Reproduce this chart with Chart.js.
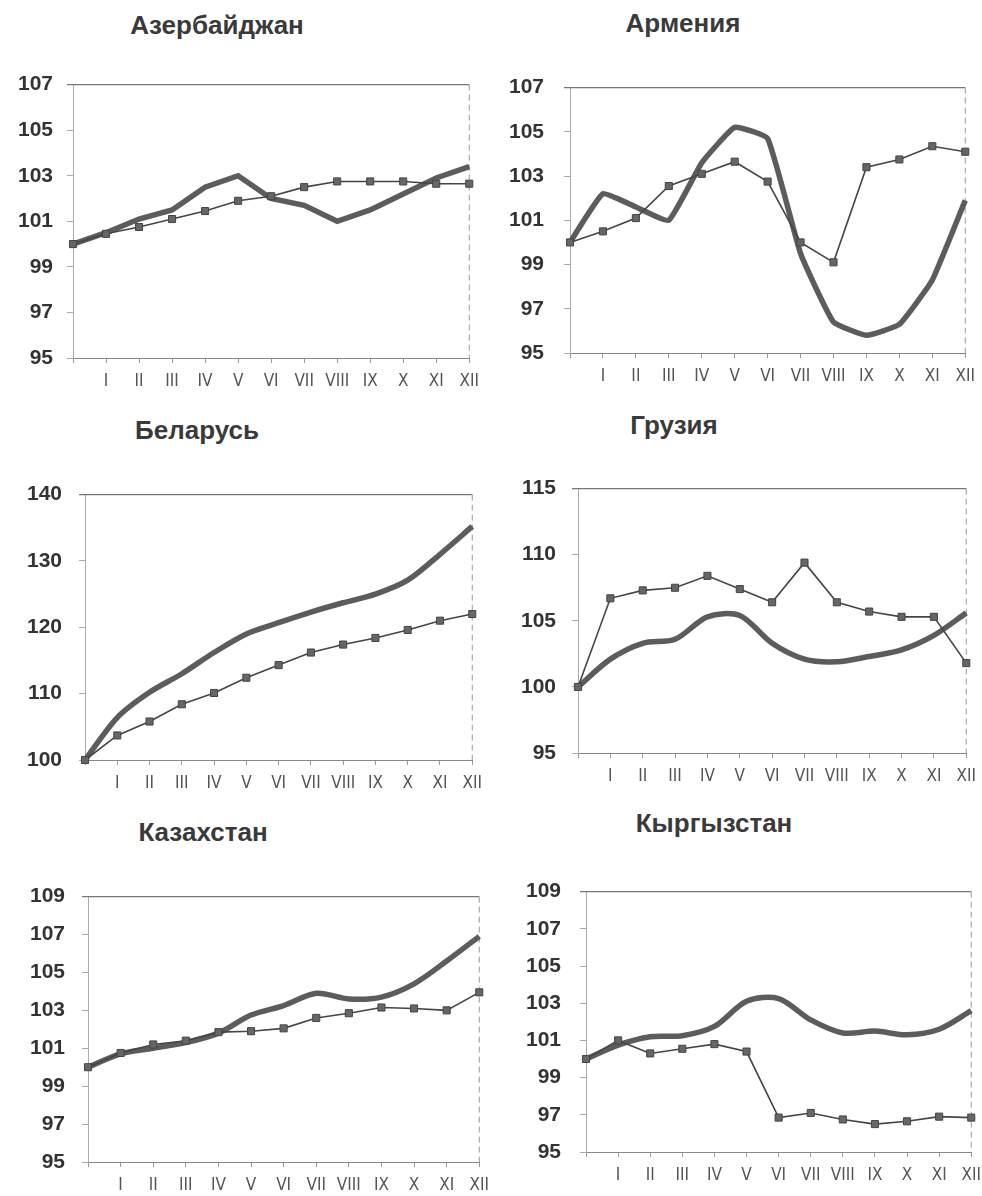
<!DOCTYPE html>
<html>
<head>
<meta charset="utf-8">
<script src="https://cdn.jsdelivr.net/npm/chart.js@4/dist/chart.umd.min.js"></script>
<style>
  body { margin: 0; background: #fff; width: 982px; height: 1196px; position: relative; overflow: hidden; font-family: 'Liberation Sans', Arial, sans-serif; }
  .title { position: absolute; font-weight: bold; font-size: 26px; color: #3a3a3a; transform: translateX(-50%); white-space: nowrap; }
  .box { position: absolute; }
</style>
</head>
<body>
<script>
// month labels (first point is the base = 100)
const months = ['', 'I', 'II', 'III', 'IV', 'V', 'VI', 'VII', 'VIII', 'IX', 'X', 'XI', 'XII'];

// thick line / line with square markers, per country
const azerbaijanBold   = [100, 100.5, 101.1, 101.5, 102.5, 103.0, 102.0, 101.7, 101.0, 101.5, 102.2, 102.9, 103.4];
const azerbaijanMarked = [100, 100.45, 100.75, 101.1, 101.45, 101.9, 102.1, 102.5, 102.75, 102.75, 102.75, 102.65, 102.65];

const armeniaBold   = [100, 102.2, 101.6, 101.0, 103.6, 105.2, 104.7, 99.5, 96.4, 95.8, 96.3, 98.3, 101.9];
const armeniaMarked = [100, 100.5, 101.1, 102.55, 103.1, 103.65, 102.75, 100.0, 99.1, 103.4, 103.75, 104.35, 104.1];

const belarusBold   = [100, 106.4, 110.2, 113.0, 116.2, 119.0, 120.7, 122.3, 123.7, 125.0, 127.1, 131.0, 135.2];
const belarusMarked = [100, 103.7, 105.8, 108.4, 110.1, 112.4, 114.3, 116.2, 117.4, 118.4, 119.6, 121.0, 122.0];

const georgiaBold   = [100, 102.1, 103.3, 103.6, 105.3, 105.4, 103.3, 102.1, 101.9, 102.3, 102.8, 103.9, 105.6];
const georgiaMarked = [100, 106.7, 107.3, 107.5, 108.4, 107.4, 106.4, 109.4, 106.4, 105.7, 105.3, 105.3, 101.8];

const kazakhstanBold   = [100, 100.7, 101.0, 101.3, 101.8, 102.75, 103.25, 103.9, 103.6, 103.7, 104.4, 105.6, 106.9];
const kazakhstanMarked = [100, 100.75, 101.2, 101.4, 101.85, 101.9, 102.05, 102.6, 102.85, 103.15, 103.1, 103.0, 103.95];

const kyrgyzstanBold   = [100, 100.75, 101.2, 101.25, 101.75, 103.1, 103.25, 102.1, 101.4, 101.5, 101.3, 101.6, 102.6];
const kyrgyzstanMarked = [100, 101.0, 100.3, 100.55, 100.8, 100.4, 96.85, 97.1, 96.75, 96.5, 96.65, 96.9, 96.85];

// layout: plot box [left, top, right, bottom] and title centre on the page
const panels = [
  { title: 'Азербайджан', bold: azerbaijanBold, marked: azerbaijanMarked, min: 95, max: 107, step: 2, plot: [73, 73, 472, 358], titleAt: [217, 25], gap: 20, tension: 0 },
  { title: 'Армения', bold: armeniaBold, marked: armeniaMarked, min: 95, max: 107, step: 2, plot: [570, 70, 968, 353], titleAt: [683, 23], gap: 26, tension: 0.12 },
  { title: 'Беларусь', bold: belarusBold, marked: belarusMarked, min: 100, max: 140, step: 10, plot: [85, 480, 475, 760], titleAt: [197, 430], gap: 23, tension: 0.3 },
  { title: 'Грузия', bold: georgiaBold, marked: georgiaMarked, min: 95, max: 115, step: 5, plot: [578, 475, 969, 753], titleAt: [674, 425], gap: 22, tension: 0.3 },
  { title: 'Казахстан', bold: kazakhstanBold, marked: kazakhstanMarked, min: 95, max: 109, step: 2, plot: [88, 882, 482, 1162], titleAt: [203, 832], gap: 23, tension: 0.3 },
  { title: 'Кыргызстан', bold: kyrgyzstanBold, marked: kyrgyzstanMarked, min: 95, max: 109, step: 2, plot: [586, 875, 974, 1152], titleAt: [714, 823], gap: 25, tension: 0.3 }
];

// top border + dashed right border of the plot area
const frame = {
  id: 'frame',
  beforeDatasetsDraw(chart) {
    const { ctx, chartArea: a } = chart;
    ctx.save();
    ctx.strokeStyle = '#777';
    ctx.lineWidth = 1.2;
    ctx.beginPath();
    ctx.moveTo(a.left - 6, a.top);
    ctx.lineTo(a.right, a.top);
    ctx.stroke();
    ctx.setLineDash([6, 4]);
    ctx.strokeStyle = '#999';
    ctx.lineWidth = 1;
    ctx.beginPath();
    ctx.moveTo(a.right, a.top);
    ctx.lineTo(a.right, a.bottom);
    ctx.stroke();
    ctx.restore();
  }
};

const padL = 80, padT = 15, padR = 15, padB = 38;

panels.forEach(p => {
  const [x0, y0, x1, y1] = p.plot;

  const t = document.createElement('div');
  t.className = 'title';
  t.textContent = p.title;
  t.style.left = p.titleAt[0] + 'px';
  t.style.top = (p.titleAt[1] - 15) + 'px';
  document.body.appendChild(t);

  const box = document.createElement('div');
  box.className = 'box';
  box.style.left = (x0 - padL) + 'px';
  box.style.top = (y0 - padT) + 'px';
  box.style.width = (x1 - x0 + padL + padR) + 'px';
  box.style.height = (y1 - y0 + padT + padB) + 'px';
  const cv = document.createElement('canvas');
  box.appendChild(cv);
  document.body.appendChild(box);

  new Chart(cv, {
    type: 'line',
    data: {
      labels: months,
      datasets: [
        {
          data: p.marked,
          borderColor: '#454545',
          borderWidth: 1.6,
          pointStyle: 'rect',
          pointRadius: 5,
          pointBackgroundColor: '#666',
          pointBorderColor: '#444',
          pointBorderWidth: 1,
          tension: 0,
          clip: false,
          order: 0
        },
        {
          data: p.bold,
          borderColor: '#5c5c5c',
          borderWidth: 5.5,
          pointRadius: 0,
          tension: p.tension,
          clip: false,
          order: 1
        }
      ]
    },
    options: {
      responsive: true,
      maintainAspectRatio: false,
      animation: false,
      layout: { padding: { top: padT, right: padR, left: 0, bottom: 0 } },
      plugins: { legend: { display: false }, tooltip: { enabled: false } },
      scales: {
        x: {
          grid: { drawOnChartArea: false, tickLength: 5, color: '#999' },
          border: { color: '#888', dash: [10, 3] },
          ticks: {
            padding: 8,
            color: '#555',
            maxRotation: 0,
            autoSkip: false,
            font: { family: "'Liberation Sans Narrow', 'DejaVu Sans Condensed', sans-serif", size: 17 }
          },
          afterFit: s => { s.height = padB; }
        },
        y: {
          min: p.min,
          max: p.max,
          ticks: {
            stepSize: p.step,
            padding: p.gap - 6,
            color: '#333',
            font: { family: "'Liberation Sans', Arial, sans-serif", size: 21, weight: 'bold' }
          },
          grid: { drawOnChartArea: false, tickLength: 6, color: '#aaa' },
          border: { color: '#aaa', dash: [8, 4] },
          afterFit: s => { s.width = padL; }
        }
      }
    },
    plugins: [frame]
  });
});
</script>
</body>
</html>
